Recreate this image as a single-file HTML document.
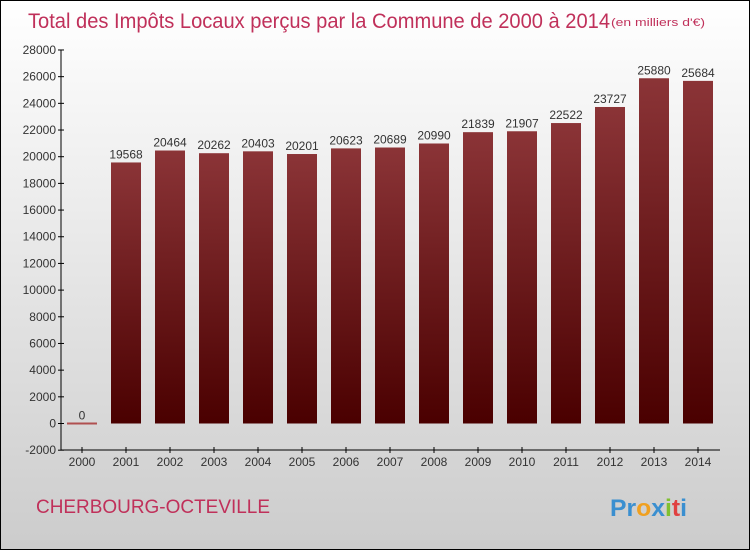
<!DOCTYPE html>
<html><head><meta charset="utf-8"><style>
html,body{margin:0;padding:0}
body{width:750px;height:550px;overflow:hidden;font-family:"Liberation Sans",sans-serif}
#wrap{position:relative;width:748px;height:548px;border:1px solid #000;background:linear-gradient(#ffffff,#cccccc)}
</style></head><body>
<div id="wrap">
<svg width="748" height="548" viewBox="1 1 748 548" id="chart">
<defs><linearGradient id="bg" x1="0" y1="0" x2="0" y2="1"><stop offset="0" stop-color="#8b3437"/><stop offset="1" stop-color="#4a0000"/></linearGradient></defs>
<text x="28" y="28" font-size="21" fill="#c0305a" textLength="582" lengthAdjust="spacingAndGlyphs">Total des Impôts Locaux perçus par la Commune de 2000 à 2014</text>
<text x="611" y="26" font-size="11" fill="#c0305a" textLength="94" lengthAdjust="spacingAndGlyphs">(en milliers d'€)</text>
<g id="axes"></g><g id="bars"></g>
<text x="36" y="513" font-size="19" fill="#c0305a" textLength="234" lengthAdjust="spacingAndGlyphs">CHERBOURG-OCTEVILLE</text>
<text x="610" y="516" font-size="24" font-weight="bold" textLength="77" lengthAdjust="spacingAndGlyphs"><tspan fill="#3a8fd0">Pr</tspan><tspan fill="#f0a020">o</tspan><tspan fill="#3a8fd0">x</tspan><tspan fill="#80c030">i</tspan><tspan fill="#e04040">t</tspan><tspan fill="#3a8fd0">i</tspan></text>
</svg></div>
<script>
const years=["2000","2001","2002","2003","2004","2005","2006","2007","2008","2009","2010","2011","2012","2013","2014"];
const values=[0,19568,20464,20262,20403,20201,20623,20689,20990,21839,21907,22522,23727,25880,25684];
const ticks=[-2000,0,2000,4000,6000,8000,10000,12000,14000,16000,18000,20000,22000,24000,26000,28000];
const NS="http://www.w3.org/2000/svg";
const y=v=>423.5-(v/2000)*26.68;
const x=i=>82+i*44;
function mk(t,a,p){const e=document.createElementNS(NS,t);for(const k in a)e.setAttribute(k,a[k]);p.appendChild(e);return e;}
const ax=document.getElementById('axes'),bs=document.getElementById('bars');
let l=mk('line',{x1:61,y1:50,x2:61,y2:450,stroke:'#000'},ax);


l=mk('line',{x1:61,y1:450,x2:720,y2:450,stroke:'#000'},ax);


ticks.forEach(t=>{mk('line',{x1:58,x2:64,y1:y(t),y2:y(t),stroke:'#000'},ax);
const tx=mk('text',{x:56,y:y(t)+4,'font-size':12,'text-anchor':'end',fill:'#333'},ax);tx.textContent=t;

});
years.forEach((yr,i)=>{mk('line',{x1:x(i),x2:x(i),y1:447,y2:453,stroke:'#000'},ax);
const tx=mk('text',{x:x(i),y:466,'font-size':12,'text-anchor':'middle',fill:'#333'},ax);tx.textContent=yr;


const v=values[i];let r;
if(v===0){r=mk('rect',{x:x(i)-15,y:y(0)-1,width:30,height:2,fill:'#b05050'},bs);}
else r=mk('rect',{x:x(i)-15,y:y(v),width:30,height:y(0)-y(v),fill:'url(#bg)'},bs);


const lb=mk('text',{x:x(i),y:y(v)-4,'font-size':12,'text-anchor':'middle',fill:'#333'},bs);lb.textContent=v;

});
</script></body></html>
